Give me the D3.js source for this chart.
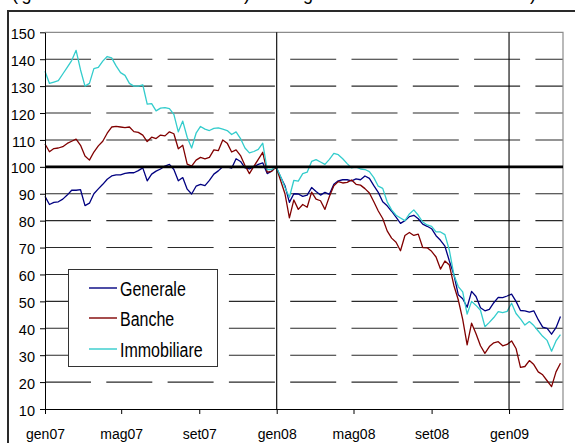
<!DOCTYPE html>
<html><head><meta charset="utf-8">
<script src="https://cdn.jsdelivr.net/npm/d3@7"></script>
<style>body{margin:0;background:#fff}svg{display:block}</style>
</head><body>
<script>
// ---- data (weekly values, Mondays from 1 Jan 2007) ----
const startDate = new Date(2007, 0, 1);
const endDate = new Date(2009, 2, 27);
const weeks = d3.timeMonday.range(startDate, new Date(2009, 2, 30));

const generale = [89, 86, 86.8, 87, 88, 89.5, 91.3, 91.3, 91.5, 85.6, 86.5, 90, 91.8, 93.5, 95.4, 96.6, 97, 97, 97.6, 97.8, 97.8, 98.6, 99.6, 94.8, 97.3, 98.4, 99.2, 100.3, 100.9, 99, 94.8, 96, 91.7, 89.9, 92.8, 93.5,
  93, 95, 97.3, 98.5, 100, 100, 99.5, 103, 102, 99.6, 99.2, 100, 100.9, 101.5, 97.5, 98.4, 100, 96.3, 93, 86.8, 90, 89.9, 89, 89.5, 92.3, 90.8, 89.5, 90.5, 89.8, 93.5, 94.8, 95.2, 95.2, 94.8, 95.5, 95.2, 96.6, 95.7, 93, 90.5,
  87, 85.5, 83.5, 81.3, 79, 80, 81.5, 82, 80.7, 78.7, 77.9, 77, 74.4, 72.7, 70.5, 65, 60, 52.5, 51, 47.8, 53.7, 51.8, 47.6, 46.5, 47, 49.5, 51.5, 51.4, 52, 52.7, 50, 46.6, 46.5, 46, 46.5, 43.2, 40.4, 40, 37.8, 40.2, 44.4];

const banche = [108.5, 105.6, 106.8, 107, 107.5, 108.7, 109.5, 110.3, 108, 104, 102.5, 105.5, 107.8, 109.5, 112.5, 114.8, 115, 114.8, 114.6, 114.8, 113.1, 112.8, 111.8, 109.4, 111, 110.5, 111.8, 111.5, 113, 112.3, 106.7, 108, 101, 100.3, 102.5, 103.5,
  103, 103.5, 106.3, 106, 110, 108.8, 105.5, 106.3, 104.2, 100.5, 97.5, 100.2, 102.8, 105.4, 98, 98.3, 100, 95, 90, 81, 87.7, 84.2, 86, 85, 90.6, 88, 87.4, 84.2, 89, 93, 94.5, 94, 94.2, 95.1, 93.5, 93.2, 91.9, 90.3, 87, 83.6,
  80.8, 76.2, 73.5, 72, 68.8, 74.5, 75.6, 74.5, 75, 70, 69.9, 68.6, 66.5, 62, 65, 63.5, 56, 50.6, 43.3, 33.8, 41.9, 38, 33.5, 30.7, 33.2, 34.6, 35, 33.5, 34, 35.3, 32.5, 25.5, 25.8, 28, 26.5, 23.8, 22.7, 20.5, 18.3, 23.8, 27];

const immobiliare = [135.5, 131, 131.5, 132, 134.5, 137, 139.5, 143.3, 136, 130, 131, 136.5, 137, 139.3, 141, 140.5, 137.5, 135, 134, 131, 130, 130, 130.5, 123.3, 123.5, 120.8, 121.8, 122, 121.6, 119.5, 113, 117, 111, 107, 112.5, 115,
  114, 113.5, 114.3, 114.5, 114, 113.5, 112, 113, 110.5, 107, 105.2, 105.7, 106.5, 108.8, 99, 99, 100, 96.5, 92.3, 88.7, 95, 94.7, 97.5, 98, 102, 102.7, 101.8, 100.9, 102.8, 105, 104.5, 103, 101.2, 99.6, 100, 99.2, 99, 98.2, 96, 92.8,
  92, 87, 84, 82, 81, 80, 82.5, 84, 82, 79.5, 78.4, 77.9, 75.8, 75.8, 74.8, 69, 60, 55.5, 53.5, 45.3, 50, 48.5, 46.7, 40.6, 42.2, 44, 46.2, 45.8, 46.3, 49.3, 45.5, 43.5, 41.2, 42.5, 41, 39, 37, 35.5, 31.5, 35.3, 37.6];

const seriesNames = ["Generale", "Banche", "Immobiliare"];
const seriesColors = ["#000080", "#800000", "#33CCCC"];
const seriesValues = [generale, banche, immobiliare];

const xTickDates = [new Date(2007,0,1), new Date(2007,4,1), new Date(2007,8,1), new Date(2008,0,1), new Date(2008,4,1), new Date(2008,8,1), new Date(2009,0,1)];
const xTickLabels = ["gen07", "mag07", "set07", "gen08", "mag08", "set08", "gen09"];
const yTickValues = [10, 20, 30, 40, 50, 60, 70, 80, 90, 100, 110, 120, 130, 140, 150];
const yearLines = [new Date(2008,0,1), new Date(2009,0,1)];
const baseValue = 100;
const titleParts = ["(gennaio 2008 = 100)", "giornalieri)"];

// ---- drawing ----
const W = 575, H = 443;
const svg = d3.select("body").append("svg").attr("width", W).attr("height", H);
const L = 45, R = 563, T = 32.3, B = 409;
const x = d3.scaleTime().domain([startDate, endDate]).range([L, R]);
const y = d3.scaleLinear().domain([10, 150]).range([B, T]);
const font = "'Liberation Sans', Arial, sans-serif";

// title above the frame, cut off by the top edge as in the reference (only descenders visible)
svg.append("text").attr("x", 12).attr("y", 0).attr("font-family", font).attr("font-size", 18)
  .attr("textLength", 238).attr("lengthAdjust", "spacing").attr("fill", "#000").text(titleParts[0]);
svg.append("text").attr("x", 303).attr("y", 0).attr("font-family", font).attr("font-size", 18)
  .attr("textLength", 233).attr("lengthAdjust", "spacing").attr("fill", "#000").text(titleParts[1]);

// outer frame
svg.append("rect").attr("x", 8).attr("y", 11).attr("width", 620).attr("height", 500)
  .attr("fill", "none").attr("stroke", "#2a2a2a").attr("stroke-width", 2);

// dashed gridlines
svg.append("g").selectAll("line").data(yTickValues.filter(v => v !== baseValue && v > 10 && v < 150))
  .join("line").attr("x1", L).attr("x2", R).attr("y1", d => y(d)).attr("y2", d => y(d))
  .attr("stroke", "#2a2a2a").attr("stroke-width", 1.1).attr("stroke-dasharray", "46 15.3");

// plot border (top, right)
svg.append("path").attr("d", `M${L},${y(150)}H${R}V${B}`).attr("fill", "none").attr("stroke", "#8c8c8c").attr("stroke-width", 1.2);

// series
const line = d3.line().x((d, i) => x(weeks[i])).y(d => y(d));
seriesValues.forEach((vals, si) => {
  svg.append("path").datum(vals).attr("d", line).attr("fill", "none")
    .attr("stroke", seriesColors[si]).attr("stroke-width", 1.3).attr("stroke-linejoin", "round");
});

// base line at 100 and year lines
svg.append("line").attr("x1", L).attr("x2", R).attr("y1", y(baseValue)).attr("y2", y(baseValue))
  .attr("stroke", "#000").attr("stroke-width", 2.6);
svg.append("g").selectAll("line").data(yearLines).join("line")
  .attr("x1", d => x(d)).attr("x2", d => x(d)).attr("y1", y(150)).attr("y2", B)
  .attr("stroke", "#000").attr("stroke-width", 1.1);

// axes
const yAxis = svg.append("g").attr("transform", `translate(${L},0)`)
  .call(d3.axisLeft(y).tickValues(yTickValues).tickSize(5).tickPadding(5).tickSizeOuter(0));
yAxis.selectAll("text").attr("font-family", font).attr("font-size", 14.5).attr("fill", "#000").attr("dy", "0.42em");
yAxis.selectAll("line,path").attr("stroke", "#000");

const xAxis = svg.append("g").attr("transform", `translate(0,${B})`)
  .call(d3.axisBottom(x).tickValues(xTickDates).tickFormat((d, i) => xTickLabels[i]).tickSize(5).tickSizeOuter(0));
xAxis.selectAll("text").attr("font-family", font).attr("font-size", 14).attr("fill", "#000").attr("y", 30).attr("dy", 0);
xAxis.selectAll("line,path").attr("stroke", "#000");

// legend
const lg = svg.append("g");
lg.append("rect").attr("x", 68.5).attr("y", 269.5).attr("width", 149).attr("height", 97)
  .attr("fill", "#fff").attr("stroke", "#333").attr("stroke-width", 1);
const rowY = [288, 318, 349];
seriesNames.forEach((n, i) => {
  lg.append("line").attr("x1", 89).attr("x2", 117).attr("y1", rowY[i]).attr("y2", rowY[i])
    .attr("stroke", seriesColors[i]).attr("stroke-width", 1.4);
  lg.append("text").attr("transform", `translate(120,${rowY[i] + 8}) scale(0.8,1)`)
    .attr("font-family", font).attr("font-size", 20).attr("fill", "#000").text(n);
});
</script>
</body></html>
